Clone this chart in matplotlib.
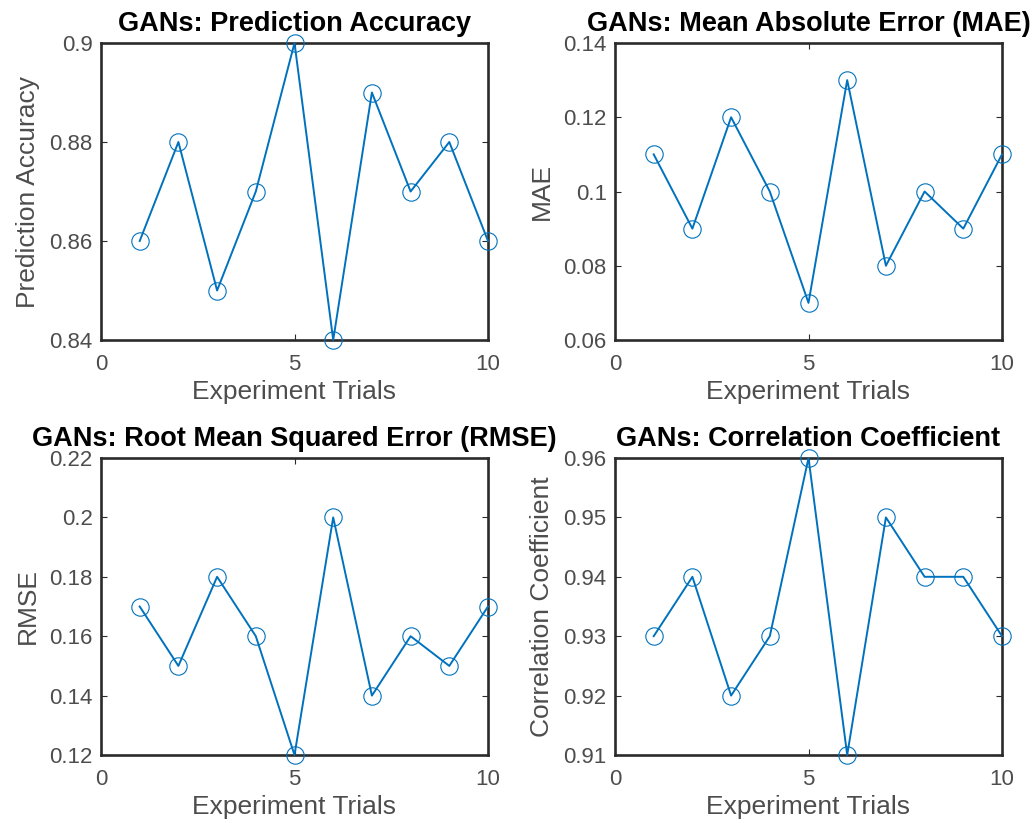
import os
import matplotlib
matplotlib.use("Agg")
import matplotlib.pyplot as plt
from matplotlib import font_manager as fm

trials = [1, 2, 3, 4, 5, 6, 7, 8, 9, 10]
accuracy = [0.86, 0.88, 0.85, 0.87, 0.90, 0.84, 0.89, 0.87, 0.88, 0.86]
mae = [0.11, 0.09, 0.12, 0.10, 0.07, 0.13, 0.08, 0.10, 0.09, 0.11]
rmse = [0.17, 0.15, 0.18, 0.16, 0.12, 0.20, 0.14, 0.16, 0.15, 0.17]
corr = [0.93, 0.94, 0.92, 0.93, 0.96, 0.91, 0.95, 0.94, 0.94, 0.93]

titles = ["GANs: Prediction Accuracy", "GANs: Mean Absolute Error (MAE)",
          "GANs: Root Mean Squared Error (RMSE)", "GANs: Correlation Coefficient"]
ylabels = ["Prediction Accuracy", "MAE", "RMSE", "Correlation Coefficient"]
ylims = [(0.84, 0.90), (0.06, 0.14), (0.12, 0.22), (0.91, 0.96)]
yticks = [[0.84, 0.86, 0.88, 0.90], [0.06, 0.08, 0.10, 0.12, 0.14],
          [0.12, 0.14, 0.16, 0.18, 0.20, 0.22], [0.91, 0.92, 0.93, 0.94, 0.95, 0.96]]
yticklabels = [["0.84", "0.86", "0.88", "0.9"], ["0.06", "0.08", "0.1", "0.12", "0.14"],
               ["0.12", "0.14", "0.16", "0.18", "0.2", "0.22"],
               ["0.91", "0.92", "0.93", "0.94", "0.95", "0.96"]]
xlabel = "Experiment Trials"
xticks = [0, 5, 10]


def find_font(name):
    for p in fm.findSystemFonts():
        if os.path.basename(p) == name:
            return p
    return None


reg_path = find_font("LiberationSans-Regular.ttf")
bold_path = find_font("LiberationSans-Bold.ttf")


def fp(size, bold=False):
    path = bold_path if bold else reg_path
    if path:
        return fm.FontProperties(fname=path, size=size)
    return fm.FontProperties(family=["Liberation Sans", "DejaVu Sans"], size=size,
                             weight="bold" if bold else "normal")


W, H = 1035, 823
fig = plt.figure(figsize=(W / 100, H / 100), dpi=100)
fig.patch.set_facecolor("white")

positions = [(101, 43), (615, 43), (101, 458), (615, 458)]
aw, ah = 387, 297
series = [accuracy, mae, rmse, corr]

blue = "#0072BD"
spine_col = "#2b2b2b"
tick_col = "#4d4d4d"

for i, (x0, y0) in enumerate(positions):
    ax = fig.add_axes([x0 / W, 1 - (y0 + ah) / H, aw / W, ah / H])
    ax.plot(trials, series[i], color=blue, lw=1.4, marker='o', markersize=12.5,
            markerfacecolor='none', markeredgecolor=blue, markeredgewidth=0.8,
            clip_on=False, zorder=3)
    ax.set_xlim(0, 10)
    ax.set_ylim(*ylims[i])
    ax.set_xticks(xticks)
    ax.set_xticklabels([str(t) for t in xticks], fontproperties=fp(16))
    ax.set_yticks(yticks[i])
    ax.set_yticklabels(yticklabels[i], fontproperties=fp(16))
    for s in ax.spines.values():
        s.set_color(spine_col)
        s.set_linewidth(1.9)
    ax.tick_params(direction='in', length=4, width=0.8, color=spine_col,
                   labelcolor=tick_col, top=True, right=True)
    ax.tick_params(axis='x', pad=10)
    ax.tick_params(axis='y', pad=6)
    ax.set_title(titles[i], fontproperties=fp(19.5, bold=True), color='black', pad=8.5)
    ax.set_xlabel(xlabel, fontproperties=fp(19), color=tick_col, labelpad=4)
    ax.set_ylabel(ylabels[i], fontproperties=fp(19), color=tick_col, labelpad=6.5)

fig.savefig("out.png", dpi=100)
